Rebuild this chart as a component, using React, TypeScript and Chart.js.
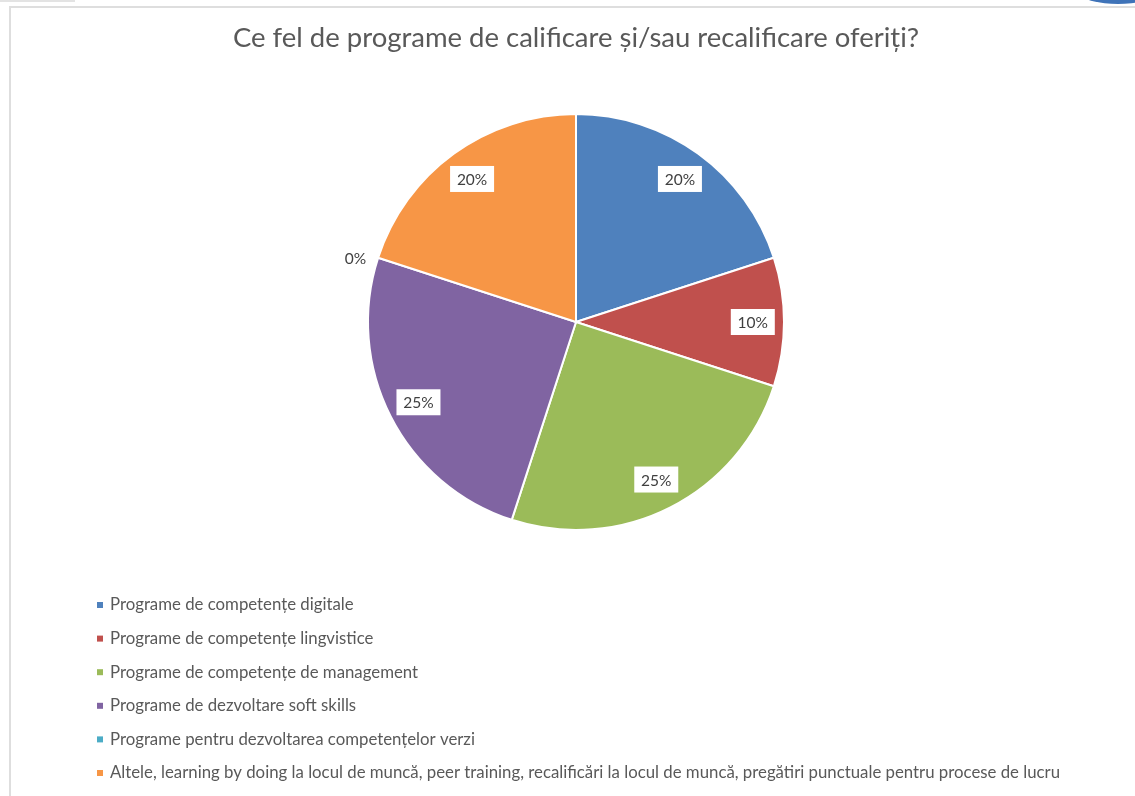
import React, { useEffect, useRef } from "react";
import { Chart, registerables } from "chart.js";

Chart.register(...registerables);

const chartTitle = "Ce fel de programe de calificare și/sau recalificare oferiți?";

const categories = [
  "Programe de competențe digitale",
  "Programe de competențe lingvistice",
  "Programe de competențe de management",
  "Programe de dezvoltare soft skills",
  "Programe pentru dezvoltarea competențelor verzi",
  "Altele, learning by doing la locul de muncă, peer training, recalificări la locul de muncă, pregătiri punctuale pentru procese de lucru",
];

const values = [20, 10, 25, 25, 0, 20];

const colors = ["#4f81bd", "#c0504d", "#9bbb59", "#8064a2", "#4bacc6", "#f79646"];

const FONT = "Lato, 'Open Sans', sans-serif";

const sliceLabels = {
  id: "sliceLabels",
  afterDatasetsDraw(chart: any) {
    const ctx = chart.ctx;
    const meta = chart.getDatasetMeta(0);
    const data = chart.data.datasets[0].data as number[];
    const total = data.reduce((a, b) => a + b, 0);
    ctx.save();
    ctx.font = `15.5px ${FONT}`;
    ctx.textBaseline = "middle";
    meta.data.forEach((arc: any, i: number) => {
      const p = arc.getProps(["x", "y", "startAngle", "endAngle", "outerRadius"], true);
      const mid = (p.startAngle + p.endAngle) / 2;
      const txt = Math.round((data[i] / total) * 100) + "%";
      if (data[i] === 0) {
        const ex = p.x + Math.cos(mid) * p.outerRadius;
        const ey = p.y + Math.sin(mid) * p.outerRadius;
        ctx.fillStyle = "#404040";
        ctx.textAlign = Math.cos(mid) < 0 ? "right" : "left";
        ctx.fillText(txt, ex + (Math.cos(mid) < 0 ? -12 : 12), ey + 1);
      } else {
        const r = p.outerRadius * 0.85;
        const lx = p.x + Math.cos(mid) * r;
        const ly = p.y + Math.sin(mid) * r;
        ctx.fillStyle = "#ffffff";
        ctx.fillRect(lx - 22, ly - 13, 44, 26);
        ctx.fillStyle = "#404040";
        ctx.textAlign = "center";
        ctx.fillText(txt, lx, ly + 1);
      }
    });
    ctx.restore();
  },
};

const listLegend = {
  id: "listLegend",
  afterDraw(chart: any) {
    const ctx = chart.ctx;
    const labels = chart.data.labels as string[];
    const bg = chart.data.datasets[0].backgroundColor as string[];
    const top = chart.chartArea.bottom + 74;
    ctx.save();
    ctx.font = `16.8px ${FONT}`;
    ctx.textAlign = "left";
    ctx.textBaseline = "middle";
    labels.forEach((lab, i) => {
      const y = top + i * 33.6;
      ctx.fillStyle = bg[i];
      ctx.fillRect(97, y - 3, 6, 6);
      ctx.fillStyle = "#595959";
      ctx.fillText(lab, 110, y);
    });
    ctx.restore();
  },
};

export default function App() {
  const ref = useRef<HTMLCanvasElement | null>(null);
  useEffect(() => {
    if (!ref.current) return;
    const chart = new Chart(ref.current, {
      type: "pie",
      data: {
        labels: categories,
        datasets: [
          {
            data: values,
            backgroundColor: colors,
            borderColor: "#ffffff",
            borderWidth: 2,
            hoverOffset: 0,
          },
        ],
      },
      options: {
        animation: false,
        responsive: true,
        maintainAspectRatio: false,
        rotation: 0,
        layout: { padding: { top: 0, bottom: 265, left: 17, right: 0 } },
        plugins: {
          legend: { display: false },
          tooltip: { enabled: false },
          title: {
            display: true,
            text: chartTitle,
            color: "#595959",
            font: { family: FONT, size: 27.5, weight: "normal" as any, lineHeight: 1.2 },
            padding: { top: 22, bottom: 58 },
          },
        },
      },
      plugins: [sliceLabels, listLegend],
    });
    return () => chart.destroy();
  }, []);

  return (
    <div style={{ position: "fixed", left: 0, top: 0, width: 1135, height: 796, background: "#fff", overflow: "hidden" }}>
      <div style={{ position: "absolute", left: 0, top: 0, width: 75, height: 2, background: "#e3e3e3" }} />
      <div style={{ position: "absolute", left: 9, top: 6, width: 1200, height: 900, border: "2px solid #dedede", boxSizing: "border-box" }} />
      <div style={{ position: "absolute", left: 1083, top: -14, width: 70, height: 18, borderRadius: "50%", background: "#3f73b8" }} />
      <div style={{ position: "absolute", left: 0, top: 0, width: 1135, height: 796 }}>
        <canvas ref={ref} />
      </div>
    </div>
  );
}
